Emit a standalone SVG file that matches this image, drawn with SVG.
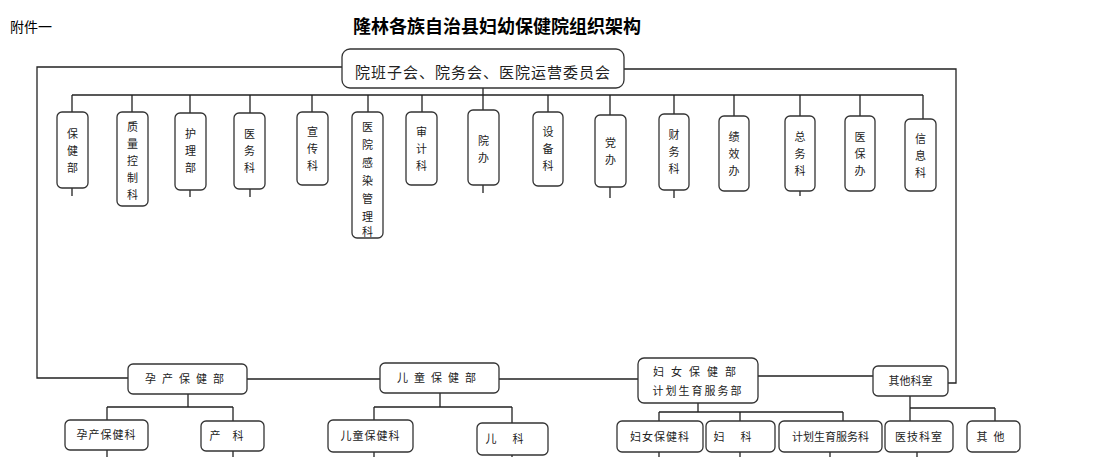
<svg xmlns="http://www.w3.org/2000/svg" width="1096" height="457" viewBox="0 0 1096 457">
<style>
.b{fill:#fff;stroke:#333;stroke-width:1.3}
.t{font-family:"Noto Sans CJK SC","Liberation Sans",sans-serif;font-size:11px;fill:#222;text-anchor:middle}
.c{fill:none;stroke:#222;stroke-width:1.3}
</style>
<rect width="1096" height="457" fill="#fff"/>
<text x="10" y="32" style="font-family:'Noto Sans CJK SC',sans-serif;font-size:14px">附件一</text>
<text x="497" y="33" style="font-family:'Noto Sans CJK SC',sans-serif;font-size:18px;font-weight:bold;text-anchor:middle">隆林各族自治县妇幼保健院组织架构</text>
<g id="connectors" class="c">
<path d="M342 67H37V378H128"/>
<path d="M624 69H956V383H948"/>
<path d="M483 88V95M72 95H923"/>
<path d="M72 95V112M132 95V112M190 95V113M250 95V113M312 95V112M368 95V112M422 95V112M483 95V110M548 95V112M610 95V115M674 95V114M734 95V116M800 95V116M860 95V116M923 95V119"/>
<path d="M72 188V196M190 190V197M250 189V197M483 185V193M610 187V198M674 190V198M800 191V196"/>
<path d="M247 379H380M499 379H638M758 376H873"/>
<path d="M188 394V407M107 407H233M107 407V420M233 407V421"/>
<path d="M440 393V407M374 407H512M374 407V420M512 407V423"/>
<path d="M698 403V412M659 412H843M659 412V421M740 412V421M843 412V421"/>
<path d="M910 396V408M910 408H995M910 408V421M995 408V421"/>
<path d="M107 450V457M233 451V457M374 452V457M512 455V457M659 452V457M740 452V457M830 452V457M917 452V457"/>
</g>
<g id="top"><rect class="b" x="342" y="49" width="282" height="39" rx="8"/><text class="t" x="483" y="78" style="font-size:15px;letter-spacing:1px">院班子会、院务会、医院运营委员会</text></g>
<g id="n1"><rect class="b" x="57" y="112" width="31" height="76" rx="5"/><text class="t" x="72.5" y="138">保</text><text class="t" x="72.5" y="155">健</text><text class="t" x="72.5" y="172">部</text></g>
<g id="n2"><rect class="b" x="117" y="112" width="31" height="94" rx="5"/><text class="t" x="132.5" y="131">质</text><text class="t" x="132.5" y="148">量</text><text class="t" x="132.5" y="165">控</text><text class="t" x="132.5" y="182">制</text><text class="t" x="132.5" y="199">科</text></g>
<g id="n3"><rect class="b" x="175" y="113" width="31" height="77" rx="5"/><text class="t" x="190.5" y="138">护</text><text class="t" x="190.5" y="155">理</text><text class="t" x="190.5" y="172">部</text></g>
<g id="n4"><rect class="b" x="234" y="113" width="31" height="76" rx="5"/><text class="t" x="249.5" y="138">医</text><text class="t" x="249.5" y="155">务</text><text class="t" x="249.5" y="172">科</text></g>
<g id="n5"><rect class="b" x="297" y="112" width="31" height="73" rx="5"/><text class="t" x="312.5" y="136">宣</text><text class="t" x="312.5" y="153">传</text><text class="t" x="312.5" y="170">科</text></g>
<g id="n6"><rect class="b" x="352" y="112" width="31" height="126" rx="5"/><text class="t" x="367.5" y="131">医</text><text class="t" x="367.5" y="149">院</text><text class="t" x="367.5" y="167">感</text><text class="t" x="367.5" y="185">染</text><text class="t" x="367.5" y="203">管</text><text class="t" x="367.5" y="221">理</text><text class="t" x="367.5" y="236">科</text></g>
<g id="n7"><rect class="b" x="406" y="112" width="31" height="73" rx="5"/><text class="t" x="421.5" y="136">审</text><text class="t" x="421.5" y="153">计</text><text class="t" x="421.5" y="170">科</text></g>
<g id="n8"><rect class="b" x="468" y="110" width="31" height="75" rx="5"/><text class="t" x="483.5" y="145">院</text><text class="t" x="483.5" y="162">办</text></g>
<g id="n9"><rect class="b" x="533" y="112" width="30" height="74" rx="5"/><text class="t" x="548" y="136">设</text><text class="t" x="548" y="153">备</text><text class="t" x="548" y="170">科</text></g>
<g id="n10"><rect class="b" x="595" y="115" width="31" height="72" rx="5"/><text class="t" x="610.5" y="147">党</text><text class="t" x="610.5" y="164">办</text></g>
<g id="n11"><rect class="b" x="659" y="114" width="30" height="76" rx="5"/><text class="t" x="674" y="139">财</text><text class="t" x="674" y="156">务</text><text class="t" x="674" y="173">科</text></g>
<g id="n12"><rect class="b" x="719" y="116" width="30" height="75" rx="5"/><text class="t" x="734" y="141">绩</text><text class="t" x="734" y="158">效</text><text class="t" x="734" y="175">办</text></g>
<g id="n13"><rect class="b" x="785" y="116" width="30" height="75" rx="5"/><text class="t" x="800" y="141">总</text><text class="t" x="800" y="158">务</text><text class="t" x="800" y="175">科</text></g>
<g id="n14"><rect class="b" x="845" y="116" width="30" height="75" rx="5"/><text class="t" x="860" y="141">医</text><text class="t" x="860" y="158">保</text><text class="t" x="860" y="175">办</text></g>
<g id="n15"><rect class="b" x="905" y="119" width="31" height="72" rx="5"/><text class="t" x="920.5" y="143">信</text><text class="t" x="920.5" y="160">息</text><text class="t" x="920.5" y="177">科</text></g>
<g id="m1"><rect class="b" x="128" y="364" width="119" height="30" rx="5"/><text class="t" x="187.5" y="383" style="letter-spacing:6px">孕产保健部</text></g>
<g id="m2"><rect class="b" x="380" y="363" width="119" height="30" rx="5"/><text class="t" x="439.5" y="382" style="letter-spacing:6px">儿童保健部</text></g>
<g id="m3"><rect class="b" x="638" y="358" width="120" height="45" rx="6"/><text class="t" x="698" y="376" style="letter-spacing:7px">妇女保健部</text><text class="t" x="698" y="395" style="letter-spacing:2px">计划生育服务部</text></g>
<g id="m4"><rect class="b" x="873" y="366" width="75" height="30" rx="5"/><text class="t" x="910.5" y="385">其他科室</text></g>
<g id="s1"><rect class="b" x="65" y="420" width="83" height="30" rx="5"/><text class="t" x="106.5" y="439" style="letter-spacing:1px">孕产保健科</text></g>
<g id="s2"><rect class="b" x="201" y="421" width="63" height="30" rx="5"/><text class="t" x="232.5" y="440" style="letter-spacing:12px">产科</text></g>
<g id="s3"><rect class="b" x="328" y="420" width="85" height="32" rx="5"/><text class="t" x="370.5" y="440" style="letter-spacing:1px">儿童保健科</text></g>
<g id="s4"><rect class="b" x="477" y="423" width="71" height="32" rx="5"/><text class="t" x="512.5" y="443" style="letter-spacing:16px">儿科</text></g>
<g id="s5"><rect class="b" x="617" y="421" width="86" height="31" rx="5"/><text class="t" x="660" y="441" style="letter-spacing:1px">妇女保健科</text></g>
<g id="s6"><rect class="b" x="706" y="421" width="69" height="31" rx="5"/><text class="t" x="740.5" y="441" style="letter-spacing:16px">妇科</text></g>
<g id="s7"><rect class="b" x="779" y="421" width="103" height="31" rx="5"/><text class="t" x="830.5" y="441">计划生育服务科</text></g>
<g id="s8"><rect class="b" x="885" y="421" width="68" height="31" rx="5"/><text class="t" x="919" y="441" style="letter-spacing:1px">医技科室</text></g>
<g id="s9"><rect class="b" x="967" y="421" width="53" height="31" rx="5"/><text class="t" x="993.5" y="441" style="letter-spacing:6px">其他</text></g>
</svg>
